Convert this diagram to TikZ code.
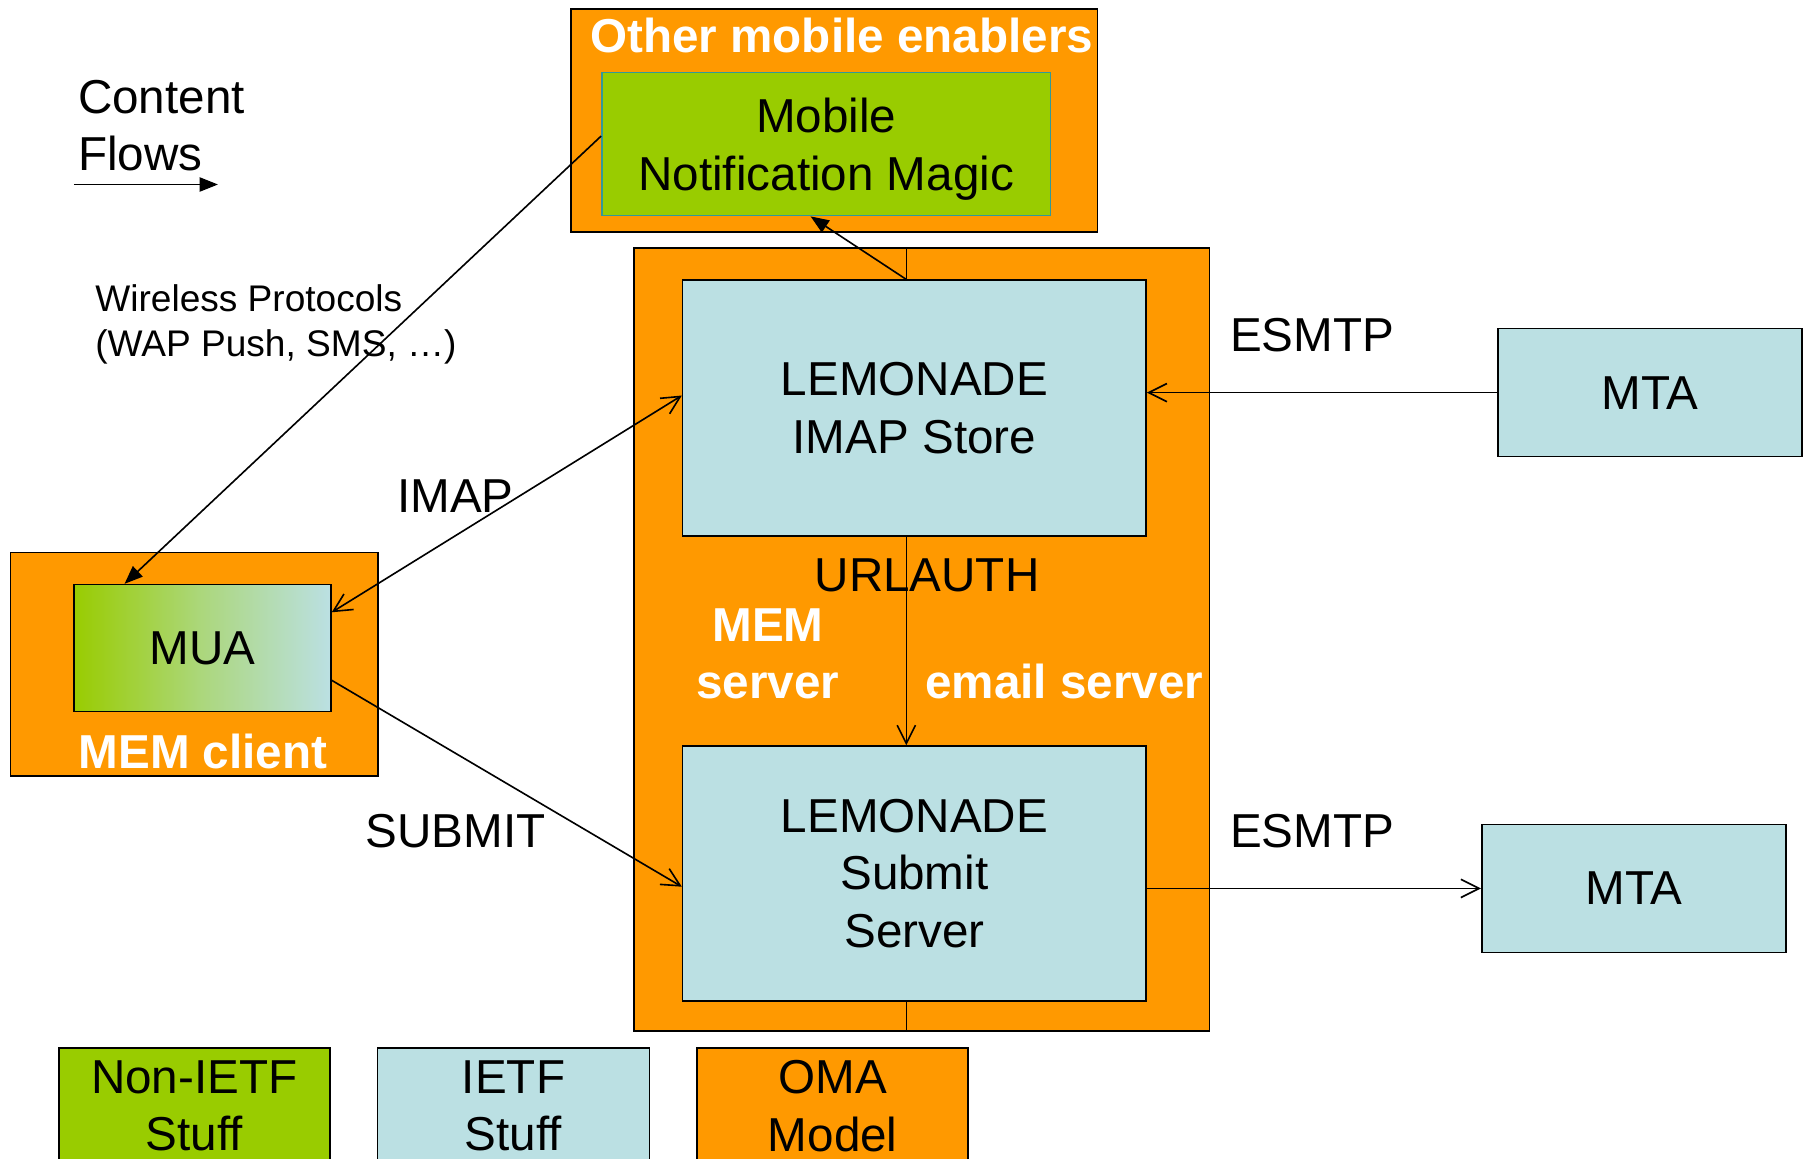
\documentclass[tikz,border=0pt]{standalone}
\usepackage{fontspec}
\setmainfont{Liberation Sans}
\usepackage{tikz}
\usetikzlibrary{arrows.meta,positioning}

\definecolor{omaorange}{HTML}{FF9900}
\definecolor{nonietf}{HTML}{99CC00}
\definecolor{ietfblue}{HTML}{BBE0E3}
\definecolor{mnmborder}{HTML}{339999}

\newcommand{\mainsize}{\fontsize{23.5}{28.5}\selectfont}
\newcommand{\wirelesssize}{\fontsize{18.3}{22.2}\selectfont}

\begin{document}
\begin{tikzpicture}[x=0.02cm, y=-0.02cm, line width=0.8pt, font=\mainsize,
  open/.style={-{Straight Barb[length=9pt,width=9pt]}},
  dual/.style={{Straight Barb[length=9pt,width=9pt]}-{Straight Barb[length=9pt,width=9pt]}},
  push/.style={-{Triangle[length=9pt,width=7pt]}}]
\tikzstyle{oma}=[draw, fill=omaorange, inner sep=0pt, align=center]
\tikzstyle{ietf}=[draw, fill=ietfblue, inner sep=0pt, align=center]
\tikzstyle{white label}=[text=white, font=\mainsize\bfseries, inner sep=0pt, align=center]
\tikzstyle{txt}=[inner sep=0pt, align=center]
\clip (0,0) rectangle (1568,1005);

% OMA boxes
\node[oma, minimum width=9.14cm, minimum height=3.86cm] (enablers) at (723.5,104.5) {};
\node[oma, minimum width=9.98cm, minimum height=13.58cm] (memsrv) at (799.5,554.5) {};
\node[oma, minimum width=6.38cm, minimum height=3.88cm] (memcli) at (168.5,576) {};

% boxes
\node[draw=mnmborder, fill=nonietf, inner sep=0pt, align=center, text depth=0pt, minimum width=7.78cm, minimum height=2.48cm] (mnm) at (716.5,125) {Mobile\\Notification Magic};
\node[ietf, minimum width=8.04cm, minimum height=4.44cm] (store) at (793,354) {LEMONADE\\IMAP Store};
\node[ietf, minimum width=8.04cm, minimum height=4.42cm] (submit) at (793,757.5) {LEMONADE\\Submit\\Server};
\node[draw, left color=nonietf, right color=ietfblue, middle color=ietfblue!55!nonietf, inner sep=0pt, minimum width=4.46cm, minimum height=2.2cm] (mua) at (175.5,562) {MUA};
\node[ietf, minimum width=5.28cm, minimum height=2.22cm] (mta1) at (1431,340.5) {MTA};
\node[ietf, minimum width=5.28cm, minimum height=2.22cm] (mta2) at (1417,770.5) {MTA};

% legend
\node[draw, fill=nonietf, inner sep=0pt, align=center, minimum width=4.7cm, minimum height=2cm] (leg1) at (168.5,959) {Non-IETF\\Stuff};
\node[ietf, minimum width=4.72cm, minimum height=2cm] (leg2) [right=0.8cm of leg1] {IETF\\Stuff};
\node[oma, minimum width=4.7cm, minimum height=2cm] (leg3) [right=0.8cm of leg2] {OMA\\Model};

% labels
\node[white label] (enablerslbl) at (730,31) {Other mobile enablers};
\node[white label] (memsrvlbl) at (666,567) {MEM\\server};
\node[white label] (emailsrvlbl) at (923,591) {email server};
\node[white label] (memclilbl) at (176,652) {MEM client};
\node[txt] (urlauth) at (804,499) {URLAUTH};
\node[txt] (imaplbl) at (395,430) {IMAP};
\node[txt] (submitlbl) at (395,721) {SUBMIT};
\node[txt] (esmtpin) at (1138,291) {ESMTP};
\node[txt] (esmtpout) at (1138,721) {ESMTP};
\node[txt, anchor=west, align=left, font=\wirelesssize] (wireless) at (82,281) {Wireless Protocols\\(WAP Push, SMS, …)};
\node[txt, anchor=west, align=left] (flows) at (67,109) {Content\\Flows};
\coordinate (flowstart) at (64,160);
\coordinate (flowend) at (189,160);
\coordinate (split) at (786,0);

% flows
\draw[push] (flowstart) -- (flowend);
\draw (memsrv.north -| split) -- (store.north -| split);
\draw (submit.south -| split) -- (memsrv.south -| split);
\draw[open] (store.south -| split) -- (submit.north -| split);
\draw[push] (store.north -| split) -- ([xshift=-0.27cm]mnm.south);
\draw[push] ([yshift=0.14cm]mnm.west) -- ([xshift=-1.35cm]mua.north);
\draw[dual] ([yshift=0.62cm]mua.east) -- ([yshift=0.22cm]store.west);
\draw[open] ([yshift=-0.56cm]mua.east) -- ([yshift=-0.23cm]submit.west);
\draw[open] (mta1.west) -- (mta1.west -| store.east);
\draw[open] (submit.east |- mta2.west) -- (mta2.west);

\end{tikzpicture}
\end{document}
